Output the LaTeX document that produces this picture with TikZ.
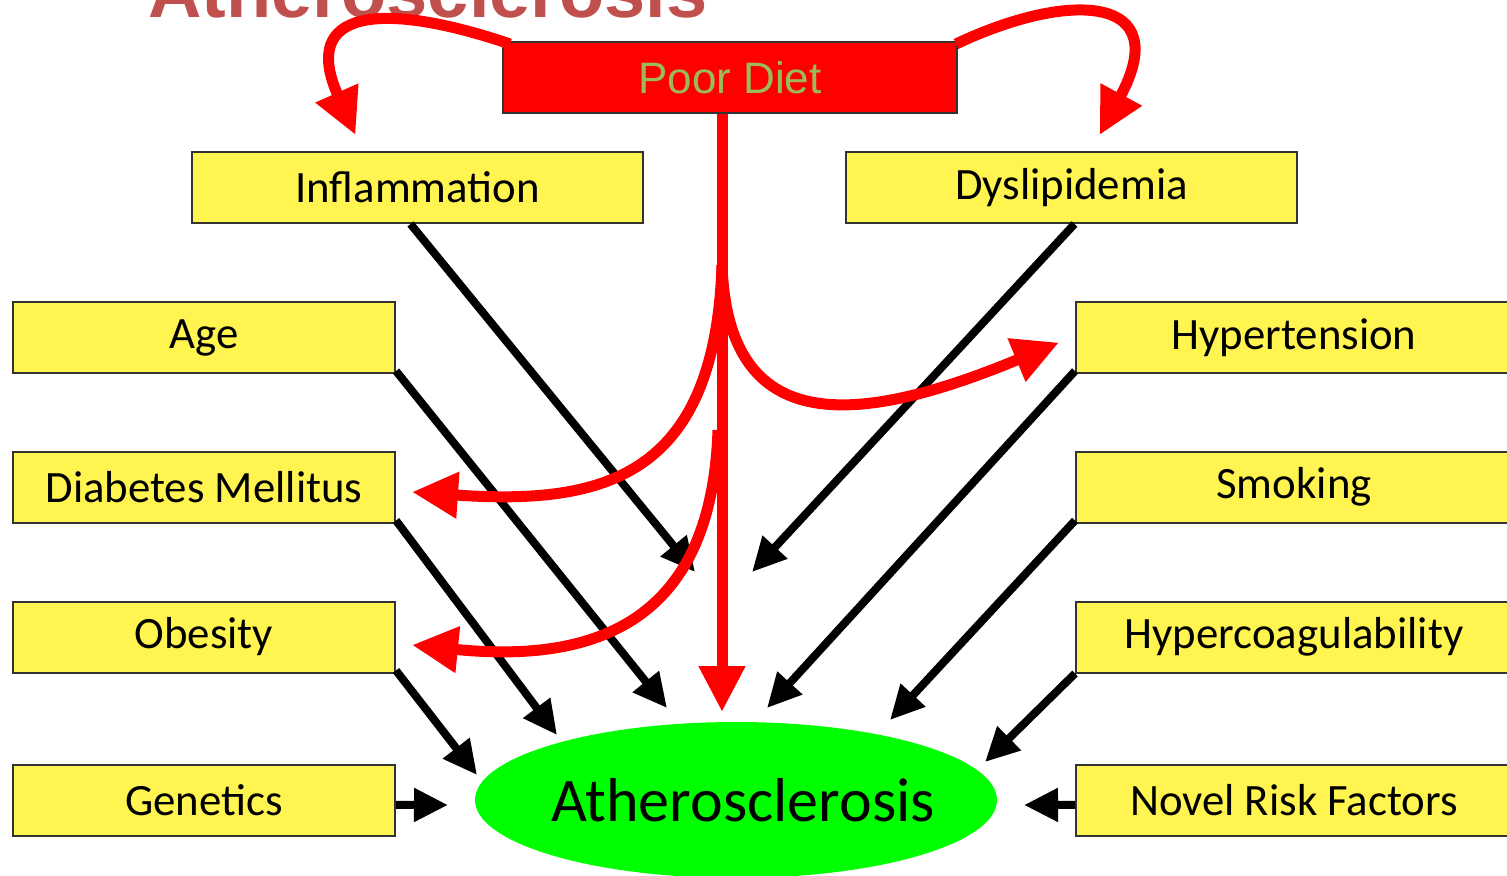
\documentclass[tikz,border=0pt]{standalone}
\usepackage{fontspec}
\setmainfont{Carlito}
\newfontfamily\arialfont{Liberation Sans}
\usetikzlibrary{arrows.meta,shapes.geometric}
\definecolor{boxyellow}{HTML}{FFF450}
\definecolor{diagred}{HTML}{FF0000}
\definecolor{diaggreen}{HTML}{00FF00}
\definecolor{titlered}{HTML}{C0504D}
\definecolor{olivetext}{HTML}{9BBB59}
\begin{document}
\begin{tikzpicture}[x=0.5pt,y=-0.5pt,
  factor/.style={draw=black!80, line width=1pt, fill=boxyellow, minimum height=35.5pt, inner sep=0pt, text=black, font=\fontsize{22.4}{26}\selectfont},
  leftbox/.style={factor, minimum width=191pt},
  rightbox/.style={factor, minimum width=218pt},
  topbox/.style={factor, minimum width=225.5pt},
  blk/.style={draw=black, line width=4pt, -{Triangle[length=17pt,width=16pt]}},
  redarr/.style={draw=diagred, line width=5.5pt, -{Triangle[length=23pt,width=22pt]}}]
\useasboundingbox (0,0) rectangle (1507,876);
\clip (0,0) rectangle (1507,876);
% title (cut off at the top edge, as in the reference)
\node[anchor=base west, inner sep=0pt, text=titlered, font=\arialfont\bfseries\fontsize{37}{40}\selectfont] (title) at (148,18) {Atherosclerosis};
% boxes
\node[draw=black!80, line width=1pt, fill=diagred, minimum width=227pt, minimum height=35.5pt, inner sep=0pt, text=olivetext, font=\arialfont\fontsize{22}{26}\selectfont] (pd) at (730,77.5) {Poor Diet};
\node[topbox] (inf) at (417.5,187.5) {Inflammation};
\node[topbox] (dys) at (1071.5,187.5) {Dyslipidemia};
\node[leftbox] (age) at (204,337.5) {Age};
\node[leftbox] (dm) at (204,487) {Diabetes Mellitus};
\node[leftbox] (ob) at (204,637) {Obesity};
\node[leftbox] (gen) at (204,800.5) {Genetics};
\node[rightbox] (hyp) at (1294,337.5) {Hypertension};
\node[rightbox] (smo) at (1294,487) {Smoking};
\node[rightbox] (hco) at (1294,637) {Hypercoagulability};
\node[rightbox] (nrf) at (1294,800.5) {Novel Risk Factors};
\node[ellipse, fill=diaggreen, minimum width=261pt, minimum height=78pt, inner sep=0pt, font=\fontsize{31}{36}\selectfont] (ath) at (736,800) {\makebox[0pt]{\hspace*{7pt}Atherosclerosis}};
% arrow end points
\coordinate (eInf) at (695,572);
\coordinate (eDys) at (752,572);
\coordinate (eAge) at (667,708);
\coordinate (eDm) at (557,735);
\coordinate (eOb) at (477,775);
\coordinate (eGen) at (448,805);
\coordinate (eHyp) at (767,708);
\coordinate (eSmo) at (890,720);
\coordinate (eHco) at (985,762);
\coordinate (eNrf) at (1024,805);
% black arrows
\draw[blk] ([xshift=-3.5pt]inf.south) -- (eInf);
\draw[blk] ([xshift=1.5pt]dys.south) -- (eDys);
\draw[blk] ([yshift=1.5pt]age.south east) -- (eAge);
\draw[blk] ([yshift=1.5pt]dm.south east) -- (eDm);
\draw[blk] ([yshift=1.5pt]ob.south east) -- (eOb);
\draw[blk] ([yshift=-2.2pt]gen.east) -- (eGen);
\draw[blk] ([yshift=1.5pt]hyp.south west) -- (eHyp);
\draw[blk] ([yshift=1.5pt]smo.south west) -- (eSmo);
\draw[blk] (hco.south west) -- (eHco);
\draw[blk] ([yshift=-2.2pt]nrf.west) -- (eNrf);
% red arrows
\coordinate (split) at (722,265);
\coordinate (split2) at (718,430);
\coordinate (eVert) at (722,712);
\draw[redarr] ([xshift=-4pt]pd.south) -- (eVert);
\draw[redarr] ([xshift=4pt,yshift=-1.5pt]pd.north west) .. controls (380,0) and (300,10) .. ([xshift=-31pt,yshift=8pt]inf.north);
\draw[redarr] ([xshift=-1pt,yshift=-1.5pt]pd.north east) .. controls (1070,-10) and (1175,-5) .. ([xshift=14pt,yshift=8pt]dys.north);
\draw[redarr] (split) .. controls (728,440) and (860,425) .. ([xshift=-8pt,yshift=-2.5pt]hyp.west);
\draw[redarr] (split) .. controls (715,480) and (600,505) .. ([xshift=8pt,yshift=-2.5pt]dm.east);
\draw[redarr] (split2) .. controls (712,610) and (610,665) .. ([xshift=8pt,yshift=-4pt]ob.east);
\end{tikzpicture}
\end{document}
